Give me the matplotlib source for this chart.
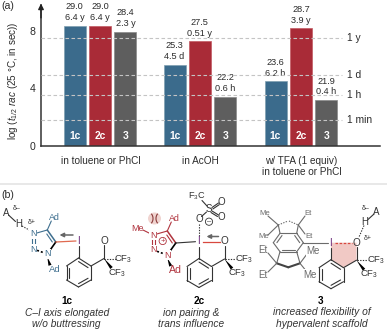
import matplotlib
matplotlib.use("Agg")
import matplotlib.pyplot as plt
from matplotlib.patches import Polygon, Circle, Ellipse, Arc

plt.rcParams['font.family'] = ['Liberation Sans', 'DejaVu Sans']
plt.rcParams['mathtext.fontset'] = 'custom'
plt.rcParams['mathtext.rm'] = 'Liberation Sans'
plt.rcParams['mathtext.it'] = 'Liberation Sans:italic'
plt.rcParams['mathtext.bf'] = 'Liberation Sans:bold'

# ---- data ----
groups = ['in toluene or PhCl', 'in AcOH', 'w/ TFA (1 equiv)\nin toluene or PhCl']
compounds = ['1c', '2c', '3']
log_t_toluene = [8.36, 8.36, 7.94]
log_t_acoh = [5.65, 7.29, 3.42]
log_t_tfa = [4.50, 8.17, 3.20]
barrier_toluene = ['29.0', '29.0', '28.4']
barrier_acoh = ['25.3', '27.5', '22.2']
barrier_tfa = ['23.6', '28.7', '21.9']
time_toluene = ['6.4 y', '6.4 y', '2.3 y']
time_acoh = ['4.5 d', '0.51 y', '0.6 h']
time_tfa = ['6.2 h', '3.9 y', '0.4 h']
ref_levels = [7.5, 4.94, 3.56, 1.78]
ref_labels = ['1 y', '1 d', '1 h', '1 min']
yticks = [0, 4, 8]

W, H = 387, 331
BLUE, RED, GREY = '#3b6b8c', '#a92b37', '#5e5e5e'
INK = '#2b2b2b'
fig = plt.figure(figsize=(W / 100, H / 100), dpi=100)
fig.patch.set_facecolor('white')

# ---- panel (a) ----
ax = fig.add_axes([41 / W, 1 - 146 / H, (380 - 41) / W, (146 - 5) / H])
ax.set_xlim(41, 380)
ax.set_ylim(0, 141 / 14.4)
ax.patch.set_alpha(0)
for s in ['top', 'right']:
    ax.spines[s].set_visible(False)
for s in ['left', 'bottom']:
    ax.spines[s].set_color('#333333')
    ax.spines[s].set_linewidth(1.1)
ax.set_xticks([])
ax.set_yticks(yticks)
ax.tick_params(axis='y', length=0, pad=4, labelsize=7.6, labelcolor=INK)
ax.annotate('', xy=(41, 141 / 14.4 + 0.1), xytext=(41, 8.9),
            arrowprops=dict(arrowstyle='-|>', color='#222222', lw=1, mutation_scale=8,
                            shrinkA=0, shrinkB=0), annotation_clip=False)
ax.set_ylabel(r'log ($\mathit{t}_{1/2}$ $\mathit{rac}$ (25 °C, in sec))', fontsize=7.1,
              color=INK)
ax.yaxis.set_label_coords(-21 / 339, 0.46)

centers = [100.0, 199.9, 300.9]
series = [log_t_toluene, log_t_acoh, log_t_tfa]
barriers = [barrier_toluene, barrier_acoh, barrier_tfa]
times = [time_toluene, time_acoh, time_tfa]
colors = [BLUE, RED, GREY]
edges = ['#7f9fb0', '#c25a63', '#8a8a8a']
for c, vals, bar_l, tim_l, g in zip(centers, series, barriers, times, groups):
    for k, (v, b, t, name, col, ec) in enumerate(zip(vals, bar_l, tim_l, compounds, colors, edges)):
        x = c + (k - 1) * 25.4
        ax.bar(x, v, width=22, color=col, edgecolor=ec, linewidth=0.5, zorder=2)
        ax.text(x, v + 0.24, t, ha='center', va='bottom', fontsize=6.6, color=INK)
        ax.text(x, v + 1.0, b, ha='center', va='bottom', fontsize=6.6, color=INK)
        ax.text(x, 0.72, name, ha='center', va='center', fontsize=7.4, color='white',
                fontweight='bold', zorder=4)
    ax.text(c + 0.5, -9.5 / 14.4, g, ha='center', va='top', fontsize=7.2, color=INK,
            linespacing=1.2, clip_on=False)
for lv, lb in zip(ref_levels, ref_labels):
    ax.plot([41, 342], [lv, lv], color='#c4c4c4', lw=0.8, dashes=(3.2, 2.2), zorder=3)
    ax.text(347, lv, lb, ha='left', va='center', fontsize=7.4, color=INK)

# ---- overlay in pixels for labels and chemical structures of panel (b) ----
ov = fig.add_axes([0, 0, 1, 1])
ov.set_xlim(0, W)
ov.set_ylim(H, 0)
ov.axis('off')
ov.patch.set_alpha(0)

BL = '#3f6f8f'
RD = '#b0343e'
PU = '#6a2a7a'
DK = '#333333'
GY = '#6b6b6b'

def bond(p, q, col=DK, lw=0.8, **kw):
    ov.plot([p[0], q[0]], [p[1], q[1]], color=col, lw=lw, solid_capstyle='round', **kw)

def dash(p, q, col=DK, lw=0.8):
    ov.plot([p[0], q[0]], [p[1], q[1]], color=col, lw=lw, dashes=(1.2, 1.2))

def wedge(p, q, col='black', w=1.6):
    dx, dy = q[0] - p[0], q[1] - p[1]
    L = (dx * dx + dy * dy) ** 0.5
    nx, ny = -dy / L * w, dx / L * w
    ov.add_patch(Polygon([p, (q[0] + nx, q[1] + ny), (q[0] - nx, q[1] - ny)], color=col, lw=0))

def lab(x, y, s, col=DK, fs=6.4, **kw):
    ov.text(x, y, s, color=col, fontsize=fs, ha='center', va='center',
            bbox=kw.pop('bbox', None), **kw)

WH = dict(boxstyle='square,pad=0.08', fc='white', ec='none')

def ring(v, col=DK, inner=(0, 2, 4), lw=0.8):
    cx = sum(p[0] for p in v) / 6
    cy = sum(p[1] for p in v) / 6
    for i in range(6):
        bond(v[i], v[(i + 1) % 6], col, lw)
    for i in inner:
        a, b = v[i], v[(i + 1) % 6]
        f = 0.76
        a2 = (cx + (a[0] - cx) * f, cy + (a[1] - cy) * f)
        b2 = (cx + (b[0] - cx) * f, cy + (b[1] - cy) * f)
        bond(a2, b2, col, lw)

def scaffold(ix, iy, cf_dx=(19, 13), tint=None):
    # benzoiodoxole core, anchored on the iodine atom
    O = (ix + 25.5, iy)
    C = (ix + 25.5, iy + 17.5)
    v = [(ix, iy + 17), (ix + 12.5, iy + 25), (ix + 12.5, iy + 39),
         (ix, iy + 46), (ix - 12, iy + 39), (ix - 12, iy + 25)]
    if tint:
        ov.add_patch(Polygon([(ix, iy), O, C, v[1], v[0]], fc=tint, ec='none'))
    ring(v, inner=(0, 2, 4))
    bond((ix, iy + 5), v[0], DK)
    bond(C, v[1], DK)
    bond(C, (O[0], O[1] + 4), DK)
    dash(C, (ix + 37, iy + 17.5))
    wedge(C, (ix + 33, iy + 27))
    lab(ix, iy, 'I', PU, 7.2)
    lab(O[0], O[1], 'O', DK, 7.2)
    lab(ix + 25.5 + cf_dx[0], iy + 18, 'CF$_3$', DK, 6.8)
    lab(ix + 25.5 + cf_dx[1], iy + 32, 'CF$_3$', DK, 6.8)

def triazole(ox, oy, col, ad_top, ad_bot, fs=6.4, fs_bot=6.4):
    N1 = (ox, oy + 5)
    N2 = (ox, oy + 20)
    N3 = (ox + 14, oy + 25)
    C5 = (ox + 22.5, oy + 13)
    C4 = (ox + 14, oy + 1)
    bond(N1, C4, col)
    bond(C4, C5, col, 1.1)
    bond((ox + 13.5, oy + 5), (ox + 19, oy + 13), col)
    bond(C5, N3, 'black', 1.2)
    dash(N2, N3, 'black', 1.2)
    bond((N1[0] - 1, N1[1] + 3), (N2[0] - 1, N2[1] - 3), col)
    bond((N1[0] + 1.5, N1[1] + 3), (N2[0] + 1.5, N2[1] - 3), col)
    lab(N1[0], N1[1], 'N', col, fs, bbox=WH)
    lab(N2[0], N2[1], 'N', col, fs, bbox=WH)
    lab(N3[0], N3[1], 'N', col, fs, bbox=WH)
    bond(C4, (ox + 18, oy - 8), col)
    lab(*ad_top, 'Ad', col, fs)
    wedge((N3[0], N3[1] + 3), (ad_bot[0] - 5, ad_bot[1] - 4))
    lab(*ad_bot, 'Ad', col, fs_bot)
    return C5

def arrow(x0, x1, y):
    ov.annotate('', xy=(x1, y), xytext=(x0, y),
                arrowprops=dict(arrowstyle='-|>', color='#666666', lw=1.1, mutation_scale=6,
                                shrinkA=0, shrinkB=0))

# text of panel labels
ov.text(1, 6, '(a)', fontsize=7.6, color=INK, ha='left', va='center')
ov.text(1, 195, '(b)', fontsize=7.6, color=INK, ha='left', va='center')
ov.plot([0, W], [183.5, 183.5], color='#e4e4e4', lw=1.2)

# structure 1c
scaffold(78.5, 241, cf_dx=(19, 13))
C5 = triazole(33.3, 229, BL, (54, 217.7), (55, 269.3), fs_bot=6.8)
bond(C5, (76, 241), '#e06a50', 0.9)
arrow(73, 59.5, 235)
lab(6, 212.7, 'A', DK, 7)
lab(18.3, 224, 'H', DK, 7)
bond((8.5, 215), (15.5, 221.5))
dash((22, 226), (31, 231))
lab(16.7, 208.3, 'δ–', DK, 5)
lab(31.7, 223, 'δ+', DK, 5)
lab(66.7, 301, '1c', 'black', 7.2, fontweight='bold')
lab(66.7, 312.7, 'C–I axis elongated', DK, 7.3, style='italic')
lab(66.7, 324, 'w/o buttressing', DK, 7.3, style='italic')

# structure 2c
scaffold(199, 241.5, cf_dx=(19.5, 13))
ov.plot([203, 220], [241.5, 241.5], color='#d8483f', lw=0.9, zorder=3)
ov.add_patch(Ellipse((154.5, 218.5), 13, 12, fc='#f0d4d0', ec='none'))
ov.add_patch(Arc((148.5, 218.5), 9, 12, theta1=-60, theta2=60, color='#8a3a3a', lw=0.8))
ov.add_patch(Arc((160.5, 218.5), 9, 12, theta1=120, theta2=240, color='#8a3a3a', lw=0.8))
C5 = triazole(153.3, 230, RD, (174.3, 218.7), (175.7, 270), fs=6.4, fs_bot=7.6)
bond(C5, (195.5, 241.7), DK)
ov.add_patch(Circle((162.7, 241), 3.6, fc='none', ec=RD, lw=0.6))
lab(162.7, 241, '+', RD, 5.5)
lab(137.3, 228.3, 'Me', RD, 6.4)
bond((143, 230), (150, 233.5), RD)
arrow(218.5, 206.5, 236.5)
dash((199, 224), (199, 236))
lab(199, 219.3, 'O', DK, 7)
ov.add_patch(Circle((209, 221.7), 3.6, fc='none', ec=DK, lw=0.6))
lab(209, 221.5, '–', DK, 5.5)
lab(209.3, 209.3, 'S', DK, 7)
bond((201.5, 216.5), (206.5, 212))
bond((212, 207.5), (218.5, 203))
bond((212.8, 209), (219.3, 204.6))
bond((212, 211), (218.5, 215))
bond((211, 212.5), (217.5, 216.5))
lab(221.7, 201.7, 'O', DK, 7)
lab(221.7, 216.7, 'O', DK, 7)
lab(196.7, 196.7, 'F$_3$C', DK, 6.6)
bond((202, 200.5), (207, 206))
lab(199, 300.7, '2c', 'black', 7.2, fontweight='bold')
lab(190.7, 312.7, 'ion pairing &', DK, 7.3, style='italic')
lab(190.7, 324, 'trans influence', DK, 7.3, style='italic')

# structure 3
scaffold(331, 242.7, cf_dx=(19.5, 13), tint='#f1c9c5')
ov.plot([335, 352], [242.7, 242.7], color='#d8483f', lw=0.9, dashes=(2, 1.3), zorder=3)
lab(365, 221.7, 'H', DK, 7)
lab(376.7, 211.7, 'A', DK, 7)
bond((368, 219.5), (374, 214))
dash((364, 225.5), (359, 237))
lab(366, 209, 'δ–', DK, 5)
lab(368, 238.3, 'δ+', DK, 5)
v3 = [(303.3, 242.7), (296.7, 233.3), (280, 233.3), (273.3, 242.7), (280, 251.7), (296.7, 251.7)]
ring(v3, GY, inner=(0, 2, 4))
bond(v3[0], (328, 242.7), GY)
top_l, top_r = (278.3, 225), (298.3, 225)
bot_l, bot_r = (276.7, 263.3), (300, 263.3)
bond(v3[2], top_l, GY)
bond(v3[1], top_r, GY)
bond(v3[4], bot_l, GY)
bond(v3[5], bot_r, GY)
dash(top_l, (288, 221), GY)
dash((289, 221), top_r, GY)
bond(bot_l, (288.3, 267.3), '#444444', 1.5)
bond((288.3, 267.3), bot_r, '#444444', 1.5)
for p, q in [(top_l, (268, 216)), (top_l, (268, 235)), (top_r, (305, 216)), (top_r, (305, 234)),
             (bot_l, (268, 253)), (bot_l, (268, 272)), (bot_r, (307, 254)), (bot_r, (307, 272))]:
    bond(p, q, GY)
lab(265, 213.3, 'Me', GY, 5.6)
lab(263.3, 236.7, 'Me', GY, 5.6)
lab(308.3, 213.3, 'Et', GY, 5.6)
lab(309.3, 236.7, 'Et', GY, 5.6)
lab(263.3, 250, 'Et', GY, 7)
lab(263.3, 275, 'Et', GY, 7)
lab(313.3, 251, 'Me', GY, 7, bbox=WH)
lab(310, 275, 'Me', GY, 7, bbox=WH)
lab(321, 300.7, '3', 'black', 7.2, fontweight='bold')
lab(321.7, 312.3, 'increased flexibility of', DK, 7.4, style='italic')
lab(321.7, 324, 'hypervalent scaffold', DK, 7.4, style='italic')

fig.savefig('out.png', dpi=100)
